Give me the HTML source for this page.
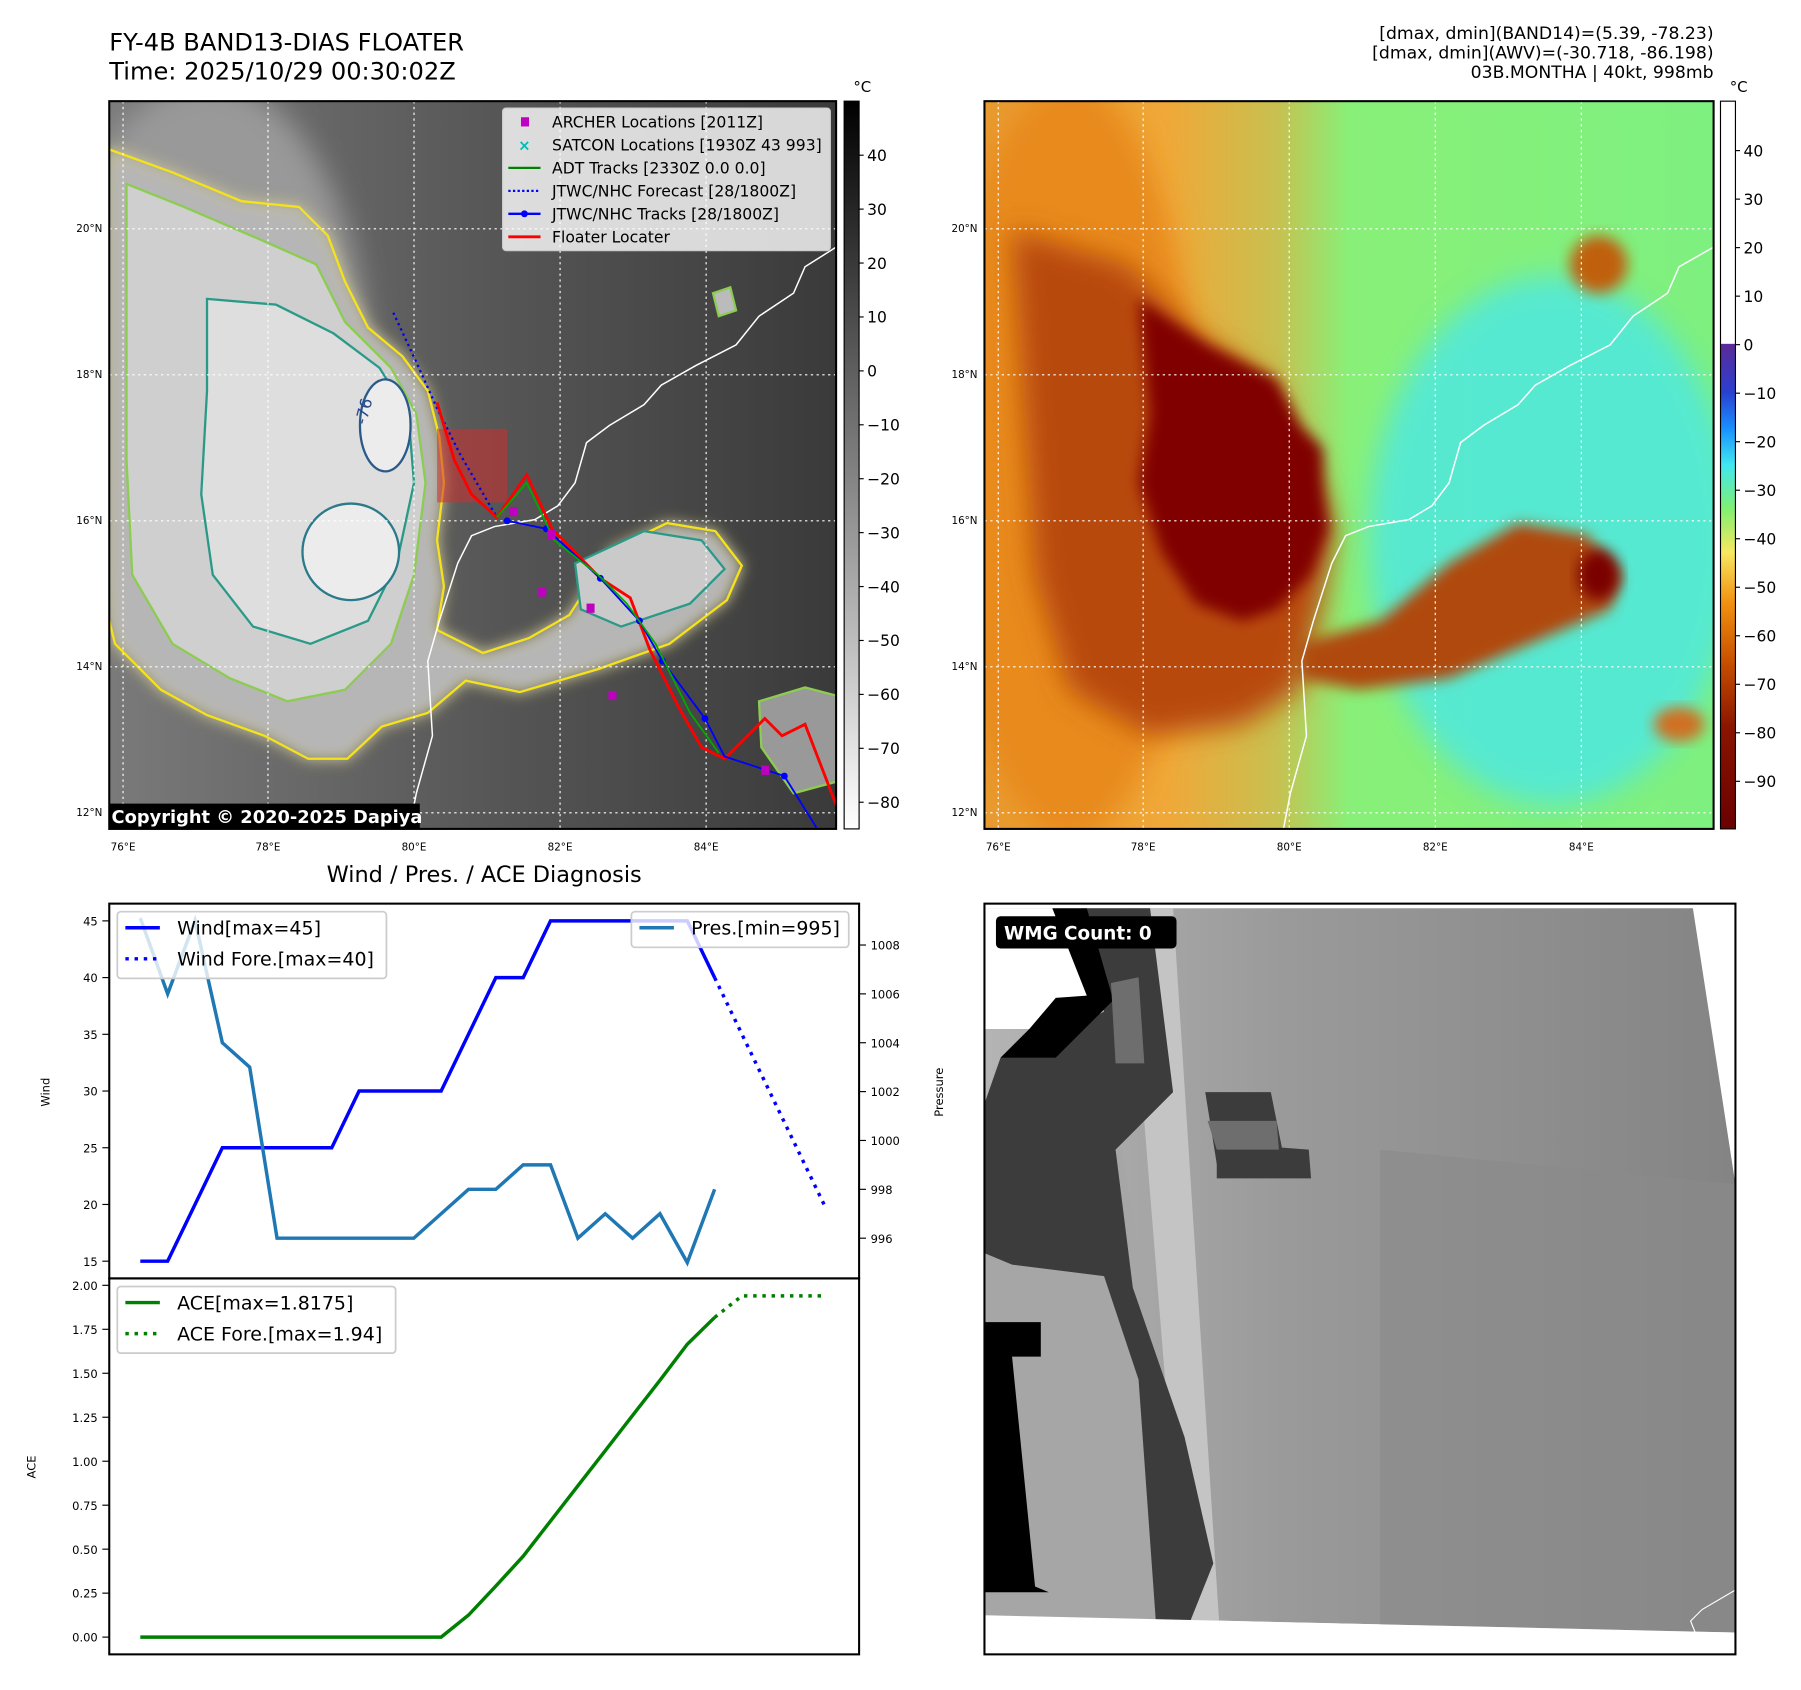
<!DOCTYPE html>
<html><head><meta charset="utf-8"><style>
html,body{margin:0;padding:0;background:#fff;}
svg{display:block;font-family:"DejaVu Sans","Liberation Sans",sans-serif;}
</style></head><body>
<svg id="fig" width="1801" height="1690" viewBox="0 0 1566 1470" preserveAspectRatio="none" xmlns="http://www.w3.org/2000/svg">
<defs>
<filter id="blur6" x="-20%" y="-20%" width="140%" height="140%"><feGaussianBlur stdDeviation="6"/></filter>
<filter id="blur12" x="-30%" y="-30%" width="160%" height="160%"><feGaussianBlur stdDeviation="12"/></filter>
<clipPath id="clipL"><rect x="95" y="88" width="632" height="633"/></clipPath>
<clipPath id="clipR"><rect x="856" y="88" width="634" height="633"/></clipPath>
<clipPath id="clipB"><rect x="856" y="786" width="653" height="653"/></clipPath>
<linearGradient id="bgL" x1="0" y1="0" x2="1" y2="0"><stop offset="0" stop-color="#7a7a7a"/><stop offset="0.55" stop-color="#555"/><stop offset="1" stop-color="#3a3a3a"/></linearGradient>
<linearGradient id="cbGray" x1="0" y1="0" x2="0" y2="1"><stop offset="0" stop-color="#000"/><stop offset="1" stop-color="#fff"/></linearGradient>
<linearGradient id="cbColor" x1="0" y1="0" x2="0" y2="1">
<stop offset="0" stop-color="#fff"/><stop offset="0.333" stop-color="#fff"/><stop offset="0.334" stop-color="#5b2a98"/>
<stop offset="0.40" stop-color="#2a40d0"/><stop offset="0.45" stop-color="#1a90ff"/><stop offset="0.50" stop-color="#40e8f0"/>
<stop offset="0.56" stop-color="#80f070"/><stop offset="0.62" stop-color="#f8e860"/><stop offset="0.69" stop-color="#f09010"/>
<stop offset="0.77" stop-color="#c85000"/><stop offset="0.86" stop-color="#8a1500"/><stop offset="1" stop-color="#6a0000"/></linearGradient>
<linearGradient id="bgR" x1="0" y1="0" x2="1" y2="0"><stop offset="0" stop-color="#e89a30"/><stop offset="0.25" stop-color="#f0a838"/><stop offset="0.4" stop-color="#c8c050"/><stop offset="0.5" stop-color="#88f078"/><stop offset="1" stop-color="#7ef080"/></linearGradient>
<linearGradient id="bgB" x1="0" y1="0" x2="1" y2="0"><stop offset="0" stop-color="#b4b4b4"/><stop offset="0.4" stop-color="#9a9a9a"/><stop offset="1" stop-color="#848484"/></linearGradient>
</defs>

<!-- Titles -->
<text x="95" y="44" font-size="21">FY-4B BAND13-DIAS FLOATER</text>
<text x="95" y="69" font-size="21">Time: 2025/10/29 00:30:02Z</text>
<g font-size="15" text-anchor="end">
<text x="1490" y="34">[dmax, dmin](BAND14)=(5.39, -78.23)</text>
<text x="1490" y="51">[dmax, dmin](AWV)=(-30.718, -86.198)</text>
<text x="1490" y="68">03B.MONTHA | 40kt, 998mb</text>
</g>

<!-- LEFT MAP -->
<g clip-path="url(#clipL)">
<rect x="95" y="88" width="632" height="633" fill="url(#bgL)"/>
<ellipse cx="180" cy="330" rx="140" ry="260" fill="#999" filter="url(#blur12)"/>
<path d="M95,130 L150,150 L210,175 L260,180 L285,205 L300,245 L320,285 L350,310 L372,340 L382,380 L386,420 L380,470 L386,510 L380,548 L420,568 L460,555 L495,535 L532,478 L580,455 L622,462 L645,492 L632,522 L582,560 L520,582 L452,602 L405,592 L372,620 L332,632 L302,660 L268,660 L230,640 L180,622 L140,600 L100,560 L95,540 Z" fill="#b6b6b6" stroke="#f0e020" stroke-width="2" filter="url(#blur6)"/>
<path d="M95,130 L150,150 L210,175 L260,180 L285,205 L300,245 L320,285 L350,310 L372,340 L382,380 L386,420 L380,470 L386,510 L380,548 L420,568 L460,555 L495,535 L532,478 L580,455 L622,462 L645,492 L632,522 L582,560 L520,582 L452,602 L405,592 L372,620 L332,632 L302,660 L268,660 L230,640 L180,622 L140,600 L100,560 L95,540" fill="none" stroke="#f5e21a" stroke-width="2"/>
<path d="M110,160 L160,180 L230,210 L275,230 L300,280 L340,320 L362,360 L370,420 L360,500 L340,560 L300,600 L250,610 L200,590 L150,560 L115,500 L110,400 Z" fill="#cfcfcf" stroke="#8ccc50" stroke-width="2"/>
<path d="M180,260 L240,265 L290,290 L330,320 L355,360 L360,420 L345,490 L320,540 L270,560 L220,545 L185,500 L175,430 L180,340 Z" fill="#dedede" stroke="#2a9a88" stroke-width="2"/>
<ellipse cx="305" cy="480" rx="42" ry="42" fill="#ececec" stroke="#2a7a8a" stroke-width="2"/>
<ellipse cx="335" cy="370" rx="22" ry="40" fill="#ececec" stroke="#2a5a8a" stroke-width="2"/>
<path d="M500,490 L560,462 L610,470 L630,495 L600,525 L540,545 L505,530 Z" fill="#cacaca" stroke="#2a9a88" stroke-width="2"/>
<path d="M620,255 L635,250 L640,270 L625,275 Z" fill="#bbb" stroke="#8ccc50" stroke-width="2"/>
<path d="M660,610 L700,598 L727,605 L727,680 L690,690 L662,650 Z" fill="#999" stroke="#8ccc50" stroke-width="2"/>
<text x="318" y="370" font-size="14" fill="#2a4a8a" transform="rotate(-75 318 370)">-76</text>
<path d="M727,215 L700,232 L690,255 L660,275 L640,300 L605,318 L575,335 L560,352 L530,370 L510,385 L500,420 L485,440 L465,452 L430,458 L410,466 L398,490 L382,540 L372,575 L376,640 L362,690 L356,721" fill="none" stroke="#fff" stroke-width="1.3"/>
<g stroke="#fff" stroke-width="1" stroke-dasharray="2,3">
<line x1="107" y1="88" x2="107" y2="721"/><line x1="233" y1="88" x2="233" y2="721"/><line x1="360" y1="88" x2="360" y2="721"/><line x1="487" y1="88" x2="487" y2="721"/><line x1="614" y1="88" x2="614" y2="721"/>
<line x1="95" y1="707" x2="727" y2="707"/><line x1="95" y1="580" x2="727" y2="580"/><line x1="95" y1="453" x2="727" y2="453"/><line x1="95" y1="326" x2="727" y2="326"/><line x1="95" y1="199" x2="727" y2="199"/>
</g>
<rect x="380" y="373" width="61" height="64" fill="#d03030" opacity="0.55"/>
<polyline points="342,272 362,315 380,355 400,395 432,450" fill="none" stroke="#0000ee" stroke-width="2" stroke-dasharray="2,3"/>
<polyline points="380,350 395,400 410,430 432,450 458,413 480,460 522,503 548,520 565,565 590,615 610,650 630,660 665,625 680,640 700,630 727,700" fill="none" stroke="#ff0000" stroke-width="2.5"/>
<polyline points="441,453 475,460 522,503 556,540 576,575 613,625 630,658 682,675 710,720" fill="none" stroke="#0000ff" stroke-width="1.6"/>
<g fill="#0000ff"><circle cx="441" cy="453" r="3"/><circle cx="475" cy="460" r="3"/><circle cx="522" cy="503" r="3"/><circle cx="556" cy="540" r="3"/><circle cx="576" cy="575" r="3"/><circle cx="613" cy="625" r="3"/><circle cx="682" cy="675" r="3"/></g>
<polyline points="432,450 458,420 482,470 520,500 545,525 570,560 600,620 625,655" fill="none" stroke="#00aa00" stroke-width="1.5"/>
<g fill="#c000c0"><rect x="443" y="441" width="7" height="8"/><rect x="476" y="461" width="7" height="8"/><rect x="468" y="511" width="7" height="8"/><rect x="510" y="525" width="7" height="8"/><rect x="529" y="601" width="7" height="8"/><rect x="662" y="666" width="7" height="8"/></g>
<g>
<rect x="437" y="94" width="285" height="124" fill="#fff" fill-opacity="0.8" stroke="#ccc" rx="3"/>
<rect x="453" y="102" width="7" height="8" fill="#c000c0"/>
<text x="456" y="131" font-size="13" fill="#00bbbb" text-anchor="middle" font-weight="bold">×</text>
<line x1="442" y1="146" x2="470" y2="146" stroke="#008000" stroke-width="2"/>
<line x1="442" y1="166" x2="470" y2="166" stroke="#0000ff" stroke-width="2" stroke-dasharray="2,2"/>
<line x1="442" y1="186" x2="470" y2="186" stroke="#0000ff" stroke-width="2"/><circle cx="456" cy="186" r="3" fill="#0000ff"/>
<line x1="442" y1="206" x2="470" y2="206" stroke="#ff0000" stroke-width="2.5"/>
<g font-size="13.6" fill="#000">
<text x="480" y="111">ARCHER Locations [2011Z]</text>
<text x="480" y="131">SATCON Locations [1930Z 43 993]</text>
<text x="480" y="151">ADT Tracks [2330Z 0.0 0.0]</text>
<text x="480" y="171">JTWC/NHC Forecast [28/1800Z]</text>
<text x="480" y="191">JTWC/NHC Tracks [28/1800Z]</text>
<text x="480" y="211">Floater Locater</text>
</g></g>
<rect x="95" y="699" width="270" height="22" fill="#000"/>
<text x="97" y="716" font-size="15.5" font-weight="bold" fill="#fff">Copyright © 2020-2025 Dapiya</text>
</g>
<rect x="95" y="88" width="632" height="633" fill="none" stroke="#000" stroke-width="1.8"/>

<!-- RIGHT MAP -->
<g clip-path="url(#clipR)">
<rect x="856" y="88" width="634" height="633" fill="url(#bgR)"/>
<ellipse cx="1350" cy="470" rx="160" ry="230" fill="#50e8e0" filter="url(#blur12)" opacity="0.85"/>
<ellipse cx="930" cy="400" rx="110" ry="330" fill="#e88a1a" filter="url(#blur12)"/>
<path d="M880,200 L980,230 L1040,290 L1100,330 L1140,400 L1160,460 L1150,520 L1130,600 L1080,630 L1000,640 L930,600 L900,500 L890,350 Z" fill="#b84a08" filter="url(#blur12)"/>
<path d="M990,260 L1050,300 L1110,330 L1130,370 L1150,390 L1150,420 L1155,460 L1140,500 L1110,530 L1080,540 L1040,525 L1010,480 L990,420 L1000,360 Z" fill="#800000" filter="url(#blur6)"/>
<path d="M1130,560 L1200,540 L1260,490 L1320,455 L1380,465 L1410,500 L1400,530 L1330,560 L1260,590 L1180,600 L1130,590 Z" fill="#b04808" filter="url(#blur6)"/>
<ellipse cx="1390" cy="500" rx="18" ry="22" fill="#7a0000" filter="url(#blur6)"/>
<ellipse cx="1390" cy="230" rx="25" ry="25" fill="#c06010" filter="url(#blur6)"/>
<ellipse cx="1460" cy="630" rx="22" ry="15" fill="#d07020" filter="url(#blur6)"/>
<path d="M1490,215 L1460,232 L1450,255 L1420,275 L1400,300 L1365,318 L1335,335 L1320,352 L1290,370 L1270,385 L1260,420 L1245,440 L1225,452 L1190,458 L1170,466 L1158,490 L1142,540 L1132,575 L1136,640 L1122,690 L1116,721" fill="none" stroke="#fff" stroke-width="1.3"/>
<g stroke="#fff" stroke-width="1" stroke-dasharray="2,3">
<line x1="868" y1="88" x2="868" y2="721"/><line x1="994" y1="88" x2="994" y2="721"/><line x1="1121" y1="88" x2="1121" y2="721"/><line x1="1248" y1="88" x2="1248" y2="721"/><line x1="1375" y1="88" x2="1375" y2="721"/>
<line x1="856" y1="707" x2="1490" y2="707"/><line x1="856" y1="580" x2="1490" y2="580"/><line x1="856" y1="453" x2="1490" y2="453"/><line x1="856" y1="326" x2="1490" y2="326"/><line x1="856" y1="199" x2="1490" y2="199"/>
</g></g>
<rect x="856" y="88" width="634" height="633" fill="none" stroke="#000" stroke-width="1.8"/>

<g font-size="9" fill="#000">
<g text-anchor="middle">
<text x="107" y="740">76°E</text><text x="233" y="740">78°E</text><text x="360" y="740">80°E</text><text x="487" y="740">82°E</text><text x="614" y="740">84°E</text>
<text x="868" y="740">76°E</text><text x="994" y="740">78°E</text><text x="1121" y="740">80°E</text><text x="1248" y="740">82°E</text><text x="1375" y="740">84°E</text>
</g>
<g text-anchor="end">
<text x="89" y="710">12°N</text><text x="89" y="583">14°N</text><text x="89" y="456">16°N</text><text x="89" y="329">18°N</text><text x="89" y="202">20°N</text>
<text x="850" y="710">12°N</text><text x="850" y="583">14°N</text><text x="850" y="456">16°N</text><text x="850" y="329">18°N</text><text x="850" y="202">20°N</text>
</g></g>

<g>
<rect x="734" y="88" width="13" height="633" fill="url(#cbGray)" stroke="#000" stroke-width="1"/>
<text x="742" y="80" font-size="13">°C</text>
<g id="cbTicks1" font-size="13.5"></g>
</g>
<g>
<rect x="1496" y="88" width="13" height="633" fill="url(#cbColor)" stroke="#000" stroke-width="1"/>
<text x="1504" y="80" font-size="13">°C</text>
<g id="cbTicks2" font-size="13.5"></g>
</g>

<text x="421" y="767" font-size="19.5" text-anchor="middle">Wind / Pres. / ACE Diagnosis</text>

<g id="charts"></g>

<g clip-path="url(#clipB)">
<rect x="856" y="786" width="653" height="653" fill="#fff"/>
<polygon points="856,790 1472,790 1509,1030 1509,1420 856,1405" fill="url(#bgB)"/>
<polygon points="1200,1000 1509,1030 1509,1420 1200,1415" fill="#8a8a8a" opacity="0.6"/>
<polygon points="980,790 1020,790 1060,1410 1030,1410" fill="#c4c4c4"/>
<polygon points="856,1020 975,1000 1000,1140 1035,1410 1000,1410 945,1410 856,1410" fill="#a6a6a6"/>
<polygon points="940,790 1000,790 1020,950 970,1000 985,1120 1030,1250 1055,1360 1035,1410 1005,1410 990,1200 960,1110 880,1100 856,1090 856,960 870,920 960,880" fill="#3c3c3c"/>
<polygon points="856,1150 905,1150 905,1180 880,1180 900,1380 912,1385 856,1385" fill="#000"/>
<polygon points="856,790 945,790 945,868 918,868 918,895 856,895" fill="#fff"/>
<polygon points="915,790 945,790 968,870 918,920 870,920 895,895 918,868 945,866" fill="#000"/>
<polygon points="1048,950 1105,950 1115,1000 1070,1000 1060,1025 1112,1025 1060,1025" fill="#3c3c3c"/>
<polygon points="1058,998 1112,998 1138,1000 1140,1025 1058,1025" fill="#3c3c3c"/>
<polygon points="1050,975 1110,975 1112,1000 1058,1000" fill="#6e6e6e"/>
<polygon points="966,855 990,850 995,925 970,925" fill="#6e6e6e"/>
<polygon points="1472,786 1509,786 1509,1030" fill="#fff"/>
<polygon points="856,1405 1509,1420 1509,1439 856,1439" fill="#fff"/>
<path d="M1509,1383 L1480,1400 L1470,1410 L1474,1420" fill="none" stroke="#fff" stroke-width="1"/>
</g>
<rect x="856" y="786" width="653" height="653" fill="none" stroke="#000" stroke-width="1.8"/>
<rect x="866" y="797" width="157" height="28" rx="4" fill="#000"/>
<text x="873" y="817" font-size="16" font-weight="bold" fill="#fff">WMG Count: 0</text>

<script>
const stepIndex = [0,1,2,3,4,5,6,7,8,9,10,11,12,13,14,15,16,17,18,19,20,21];
const windObs = [15,15,20,25,25,25,25,25,30,30,30,30,35,40,40,45,45,45,45,45,45,40];
const windFore = [40,35,30,25,20];
const presObs = [1009.1,1006,1009,1004,1003,996,996,996,996,996,996,997,998,998,999,999,996,997,996,997,995,998];
const aceObs = [0,0,0,0,0,0,0,0,0,0,0,0,0.125,0.29,0.46,0.66,0.86,1.06,1.26,1.46,1.665,1.8175];
const aceFore = [1.8175,1.94,1.94,1.94,1.94];
const windTicks = [15,20,25,30,35,40,45];
const presTicks = [996,998,1000,1002,1004,1006,1008];
const aceTicks = [0,0.25,0.5,0.75,1.0,1.25,1.5,1.75,2.0];
const cbTicksIR = [40,30,20,10,0,-10,-20,-30,-40,-50,-60,-70,-80];
const cbTicksAWV = [40,30,20,10,0,-10,-20,-30,-40,-50,-60,-70,-80,-90];

const NS = "http://www.w3.org/2000/svg";
function mk(tag, attrs, parent){const e=document.createElementNS(NS,tag);for(const k in attrs)e.setAttribute(k,attrs[k]);parent.appendChild(e);return e;}
const xS = i => 122 + i*23.78;
const wY = v => 801 + (45-v)*(296/30);
const pY = v => 822 + (1008-v)*21.25;
const aY = v => 1424 - v*153;
const G = document.getElementById('charts');

let f1 = mk('rect',{x:95,y:786,width:652,height:326,fill:'none',stroke:'#000','stroke-width':1.8},G);


let f2 = mk('rect',{x:95,y:1112,width:652,height:327,fill:'none',stroke:'#000','stroke-width':1.8},G);



windTicks.forEach(v=>{const y=wY(v);mk('line',{x1:89,y1:y,x2:95,y2:y,stroke:'#000'},G);
 const t=mk('text',{x:85,y:y+4,'font-size':10,'text-anchor':'end'},G);t.textContent=v;
 
 });
presTicks.forEach(v=>{const y=pY(v);mk('line',{x1:747,y1:y,x2:753,y2:y,stroke:'#000'},G);
 const t=mk('text',{x:757,y:y+4,'font-size':10},G);t.textContent=v;
 
 });
aceTicks.forEach(v=>{const y=aY(v);mk('line',{x1:89,y1:y,x2:95,y2:y,stroke:'#000'},G);
 const t=mk('text',{x:85,y:y+4,'font-size':10,'text-anchor':'end'},G);t.textContent=v.toFixed(2);
 
 });
let yl=mk('text',{x:43,y:950,'font-size':10,'text-anchor':'middle',transform:'rotate(-90 43 950)'},G);yl.textContent='Wind';


let pl=mk('text',{x:820,y:950,'font-size':10,'text-anchor':'middle',transform:'rotate(-90 820 950)'},G);pl.textContent='Pressure';


let al=mk('text',{x:31,y:1276,'font-size':10,'text-anchor':'middle',transform:'rotate(-90 31 1276)'},G);al.textContent='ACE';



const last = stepIndex.length-1;
let wl=mk('polyline',{points:windObs.map((v,i)=>xS(stepIndex[i])+','+wY(v)).join(' '),fill:'none',stroke:'#0000ff','stroke-width':3},G);


let wf=mk('polyline',{points:windFore.map((v,i)=>xS(last+i)+','+wY(v)).join(' '),fill:'none',stroke:'#0000ff','stroke-width':3,'stroke-dasharray':'3,5'},G);


let pr=mk('polyline',{points:presObs.map((v,i)=>xS(stepIndex[i])+','+pY(v)).join(' '),fill:'none',stroke:'#1f77b4','stroke-width':3},G);


let ac=mk('polyline',{points:aceObs.map((v,i)=>xS(stepIndex[i])+','+aY(v)).join(' '),fill:'none',stroke:'#008000','stroke-width':3},G);


let af=mk('polyline',{points:aceFore.map((v,i)=>xS(last+i)+','+aY(v)).join(' '),fill:'none',stroke:'#008000','stroke-width':3,'stroke-dasharray':'3,5'},G);



function legend(x,y,w,items,name){
 const g=mk('g',{},G);
 
 
 mk('rect',{x:x,y:y,width:w,height:items.length*27+4,fill:'#fff','fill-opacity':0.8,stroke:'#ccc','stroke-width':1.5,rx:3},g);
 items.forEach((it,k)=>{const yy=y+16+k*27;
  mk('line',{x1:x+7,y1:yy-2,x2:x+37,y2:yy-2,stroke:it[1],'stroke-width':3,'stroke-dasharray':it[2]?'3,5':'none'},g);
  const t=mk('text',{x:x+52,y:yy+4,'font-size':16.5},g);t.textContent=it[0];});
}
legend(102,793,234,[['Wind[max=45]','#0000ff',0],['Wind Fore.[max=40]','#0000ff',1]],'wind-legend');
legend(549,793,189,[['Pres.[min=995]','#1f77b4',0]],'pressure-legend');
legend(102,1119,242,[['ACE[max=1.8175]','#008000',0],['ACE Fore.[max=1.94]','#008000',1]],'ace-legend');

const c1=document.getElementById('cbTicks1');
cbTicksIR.forEach(v=>{const y=135+(40-v)*4.69;mk('line',{x1:747,y1:y,x2:751,y2:y,stroke:'#000'},c1);
 const t=mk('text',{x:754,y:y+5},c1);t.textContent=(v<0?'\u2212'+(-v):v);});
const c2=document.getElementById('cbTicks2');
cbTicksAWV.forEach(v=>{const y=131+(40-v)*4.22;mk('line',{x1:1509,y1:y,x2:1513,y2:y,stroke:'#000'},c2);
 const t=mk('text',{x:1516,y:y+5},c2);t.textContent=(v<0?'\u2212'+(-v):v);});
</script>
</svg>
</body></html>
